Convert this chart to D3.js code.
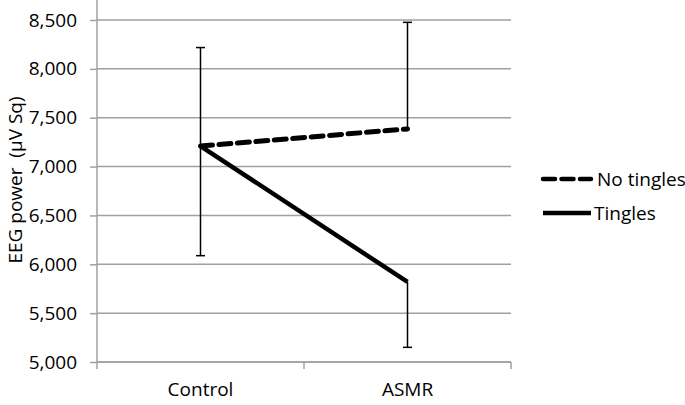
<!DOCTYPE html>
<html>
<head>
<meta charset="utf-8">
<script src="https://cdn.jsdelivr.net/npm/d3@7"></script>
<style>
body{margin:0;background:#fff;}
text{font-family:"Open Sans",sans-serif;fill:#000;}
</style>
</head>
<body>
<svg id="chart" width="685" height="405"></svg>
<script>
// data
var categories=["Control","ASMR"];
var noTingles=[7210,7385];
var tingles=[7210,5819];
// one-sided error bars: up for no tingles, down for tingles
var noTinglesErrUp=[1008,1091];
var tinglesErrDown=[1122,669];
var yTicks=[5000,5500,6000,6500,7000,7500,8000,8500];

var svg=d3.select("#chart");
var x0=97, x1=511, yTop=20, yBot=362;
var fs="19px";

var x=d3.scaleBand().domain(categories).range([x0,x1]);
var y=d3.scaleLinear().domain([5000,8500]).range([yBot,yTop]);

// gridlines
svg.append("g").selectAll("line").data(yTicks).enter().append("line")
	.attr("x1",x0).attr("x2",x1)
	.attr("y1",function(d){return y(d);}).attr("y2",function(d){return y(d);})
	.style("stroke","#a0a0a0").style("stroke-width",1.5);

// y axis
var yAxis=svg.append("g").attr("transform","translate("+x0+",0)")
	.call(d3.axisLeft(y).tickValues(yTicks).tickSize(7).tickPadding(13).tickFormat(d3.format(",")));
yAxis.select(".domain").attr("d","M0,0V"+(yBot+7)).style("stroke","#a0a0a0").style("stroke-width",1.5);
yAxis.selectAll(".tick line").style("stroke","#a0a0a0").style("stroke-width",1.5);
yAxis.selectAll("text").style("font-size",fs).style("font-family","'Open Sans',sans-serif");

// x axis (ticks at category boundaries)
var xg=svg.append("g").attr("transform","translate(0,"+yBot+")");
xg.append("line").attr("x1",x0).attr("x2",x1).style("stroke","#a0a0a0").style("stroke-width",1.5);
xg.selectAll(".bnd").data(categories).enter().append("line")
	.attr("x1",function(d){return x(d)+x.bandwidth();}).attr("x2",function(d){return x(d)+x.bandwidth();})
	.attr("y1",0).attr("y2",7).style("stroke","#a0a0a0").style("stroke-width",1.5);
xg.selectAll("text").data(categories).enter().append("text")
	.attr("x",function(d){return x(d)+x.bandwidth()/2;}).attr("y",34)
	.attr("text-anchor","middle").style("font-size",fs).text(function(d){return d;});

// y title
svg.append("text").attr("transform","translate(22,180) rotate(-90)")
	.attr("text-anchor","middle").style("font-size",fs).style("white-space","pre")
	.text("EEG power  (\u00b5V Sq)");

function cx(i){return x(categories[i])+x.bandwidth()/2;}

// error bars
function errBar(vals,errs,dir){
	var g=svg.append("g");
	vals.forEach(function(v,i){
		var e=v+dir*errs[i];
		g.append("line").attr("x1",cx(i)).attr("x2",cx(i)).attr("y1",y(v)).attr("y2",y(e))
			.style("stroke","#000").style("stroke-width",1.5);
		g.append("line").attr("x1",cx(i)-4.5).attr("x2",cx(i)+4.5).attr("y1",y(e)).attr("y2",y(e))
			.style("stroke","#000").style("stroke-width",1.5);
	});
}
errBar(noTingles,noTinglesErrUp,1);
errBar(tingles,tinglesErrDown,-1);

var line=d3.line().x(function(d,i){return cx(i);}).y(function(d){return y(d);});
svg.append("path").datum(tingles).attr("d",line)
	.style("fill","none").style("stroke","#000").style("stroke-width",4.5);
svg.append("path").datum(noTingles).attr("d",line)
	.style("fill","none").style("stroke","#000").style("stroke-width",5)
	.style("stroke-dasharray","12,6.5").style("stroke-linecap","round");

// legend
var legend=[{name:"No tingles",dash:"12,6.5",cap:"round",y:179,tx:597},{name:"Tingles",dash:null,cap:"butt",y:213,tx:594}];
legend.forEach(function(l){
	svg.append("line").attr("x1",543).attr("x2",591).attr("y1",l.y).attr("y2",l.y)
		.style("stroke","#000").style("stroke-width",4.5)
		.style("stroke-dasharray",l.dash).style("stroke-linecap",l.cap);
	svg.append("text").attr("x",l.tx).attr("y",l.y+7).style("font-size",fs).text(l.name);
});
</script>
</body>
</html>
